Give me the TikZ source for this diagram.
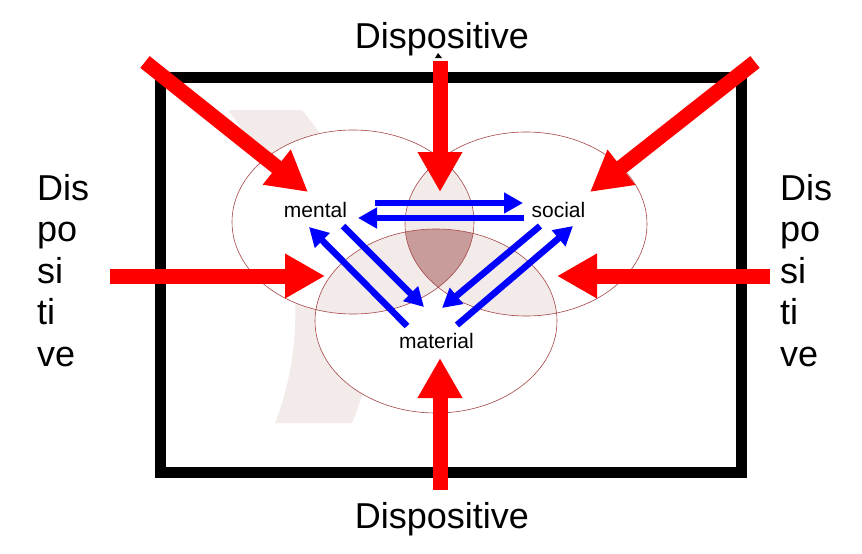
\documentclass[tikz,border=0pt]{standalone}
\usepackage{fontspec}
\setmainfont{Liberation Sans}
\usetikzlibrary{arrows.meta}
\definecolor{rim}{RGB}{165,70,70}
\definecolor{pale}{RGB}{243,234,234}
\definecolor{core}{RGB}{201,156,156}
\tikzset{
	ring/.style={x radius=121pt, y radius=92pt},
	push/.style={line width=15pt, red, -{Triangle[length=40pt, width=42pt]}},
	link/.style={line width=6.5pt, blue, -{Triangle[length=19pt, width=20pt]}},
	word/.style={font=\fontsize{21}{25}\selectfont, inner sep=0pt, anchor=base},
	big/.style={font=\fontsize{36}{41.5}\selectfont, inner sep=0pt}
}
\begin{document}
\begin{tikzpicture}[x=1pt, y=-1pt]
	\useasboundingbox (0,0) rectangle (862,554);
	\draw[line width=11pt] (160,77) rectangle (741,472);
	\fill[pale] (228,110) -- (302,110) .. controls (378,200) and (392,330) .. (352,423)
		-- (275,423) .. controls (312,330) and (300,200) .. (228,110) -- cycle;
	\coordinate (cm) at (353,222);
	\coordinate (cs) at (526,224);
	\coordinate (ct) at (436,321);
	\fill[white] (cm) ellipse [ring];
	\fill[white] (cs) ellipse [ring];
	\fill[white] (ct) ellipse [ring];
	\begin{scope}
		\clip (cm) ellipse [ring];
		\fill[pale] (cs) ellipse [ring];
		\fill[pale] (ct) ellipse [ring];
	\end{scope}
	\begin{scope}
		\clip (cs) ellipse [ring];
		\fill[pale] (ct) ellipse [ring];
		\clip (ct) ellipse [ring];
		\fill[core] (cm) ellipse [ring];
	\end{scope}
	\draw[rim, line width=0.6pt] (cm) ellipse [ring] (cs) ellipse [ring] (ct) ellipse [ring];
	\node[word] (mental) at (315.5,217) {mental};
	\node[word] (social) at (558.5,217) {social};
	\node[word] (material) at (436.5,348) {material};
	\coordinate (ms1) at (375,203);
	\coordinate (ms2) at (523,203);
	\coordinate (sm1) at (524,218);
	\coordinate (sm2) at (358,218);
	\coordinate (mt1) at (343,226);
	\coordinate (mt2) at (424,307);
	\coordinate (tm1) at (407,326);
	\coordinate (tm2) at (309,227);
	\coordinate (st1) at (540,226);
	\coordinate (st2) at (442,308);
	\coordinate (ts1) at (457,325);
	\coordinate (ts2) at (573,226);
	\draw[link] (ms1) -- (ms2);
	\draw[link] (sm1) -- (sm2);
	\draw[link] (mt1) -- (mt2);
	\draw[link] (tm1) -- (tm2);
	\draw[link] (st1) -- (st2);
	\draw[link] (ts1) -- (ts2);
	\node[big, anchor=base] (top) at (442,48) {Dispositive};
	\node[big, anchor=base] (bottom) at (442,528) {Dispositive};
	\node[big, anchor=base west, align=left] (left) at (37,366) {Dis\\po\\si\\ti\\ve};
	\node[big, anchor=base west, align=left] (right) at (780,366) {Dis\\po\\si\\ti\\ve};
	\fill (435,58) -- (438,53) -- (442,58) -- cycle;
	\coordinate (n0) at (440,61);
	\coordinate (n1) at (440,192);
	\coordinate (s0) at (440,490);
	\coordinate (s1) at (440,358);
	\coordinate (w0) at (110,276);
	\coordinate (w1) at (325,276);
	\coordinate (e0) at (770,276);
	\coordinate (e1) at (557,276);
	\coordinate (nw0) at (145,62);
	\coordinate (nw1) at (308,192);
	\coordinate (ne0) at (755,62);
	\coordinate (ne1) at (590,192);
	\draw[push] (n0) -- (n1);
	\draw[push] (s0) -- (s1);
	\draw[push] (w0) -- (w1);
	\draw[push] (e0) -- (e1);
	\draw[push] (nw0) -- (nw1);
	\draw[push] (ne0) -- (ne1);
\end{tikzpicture}
\end{document}
